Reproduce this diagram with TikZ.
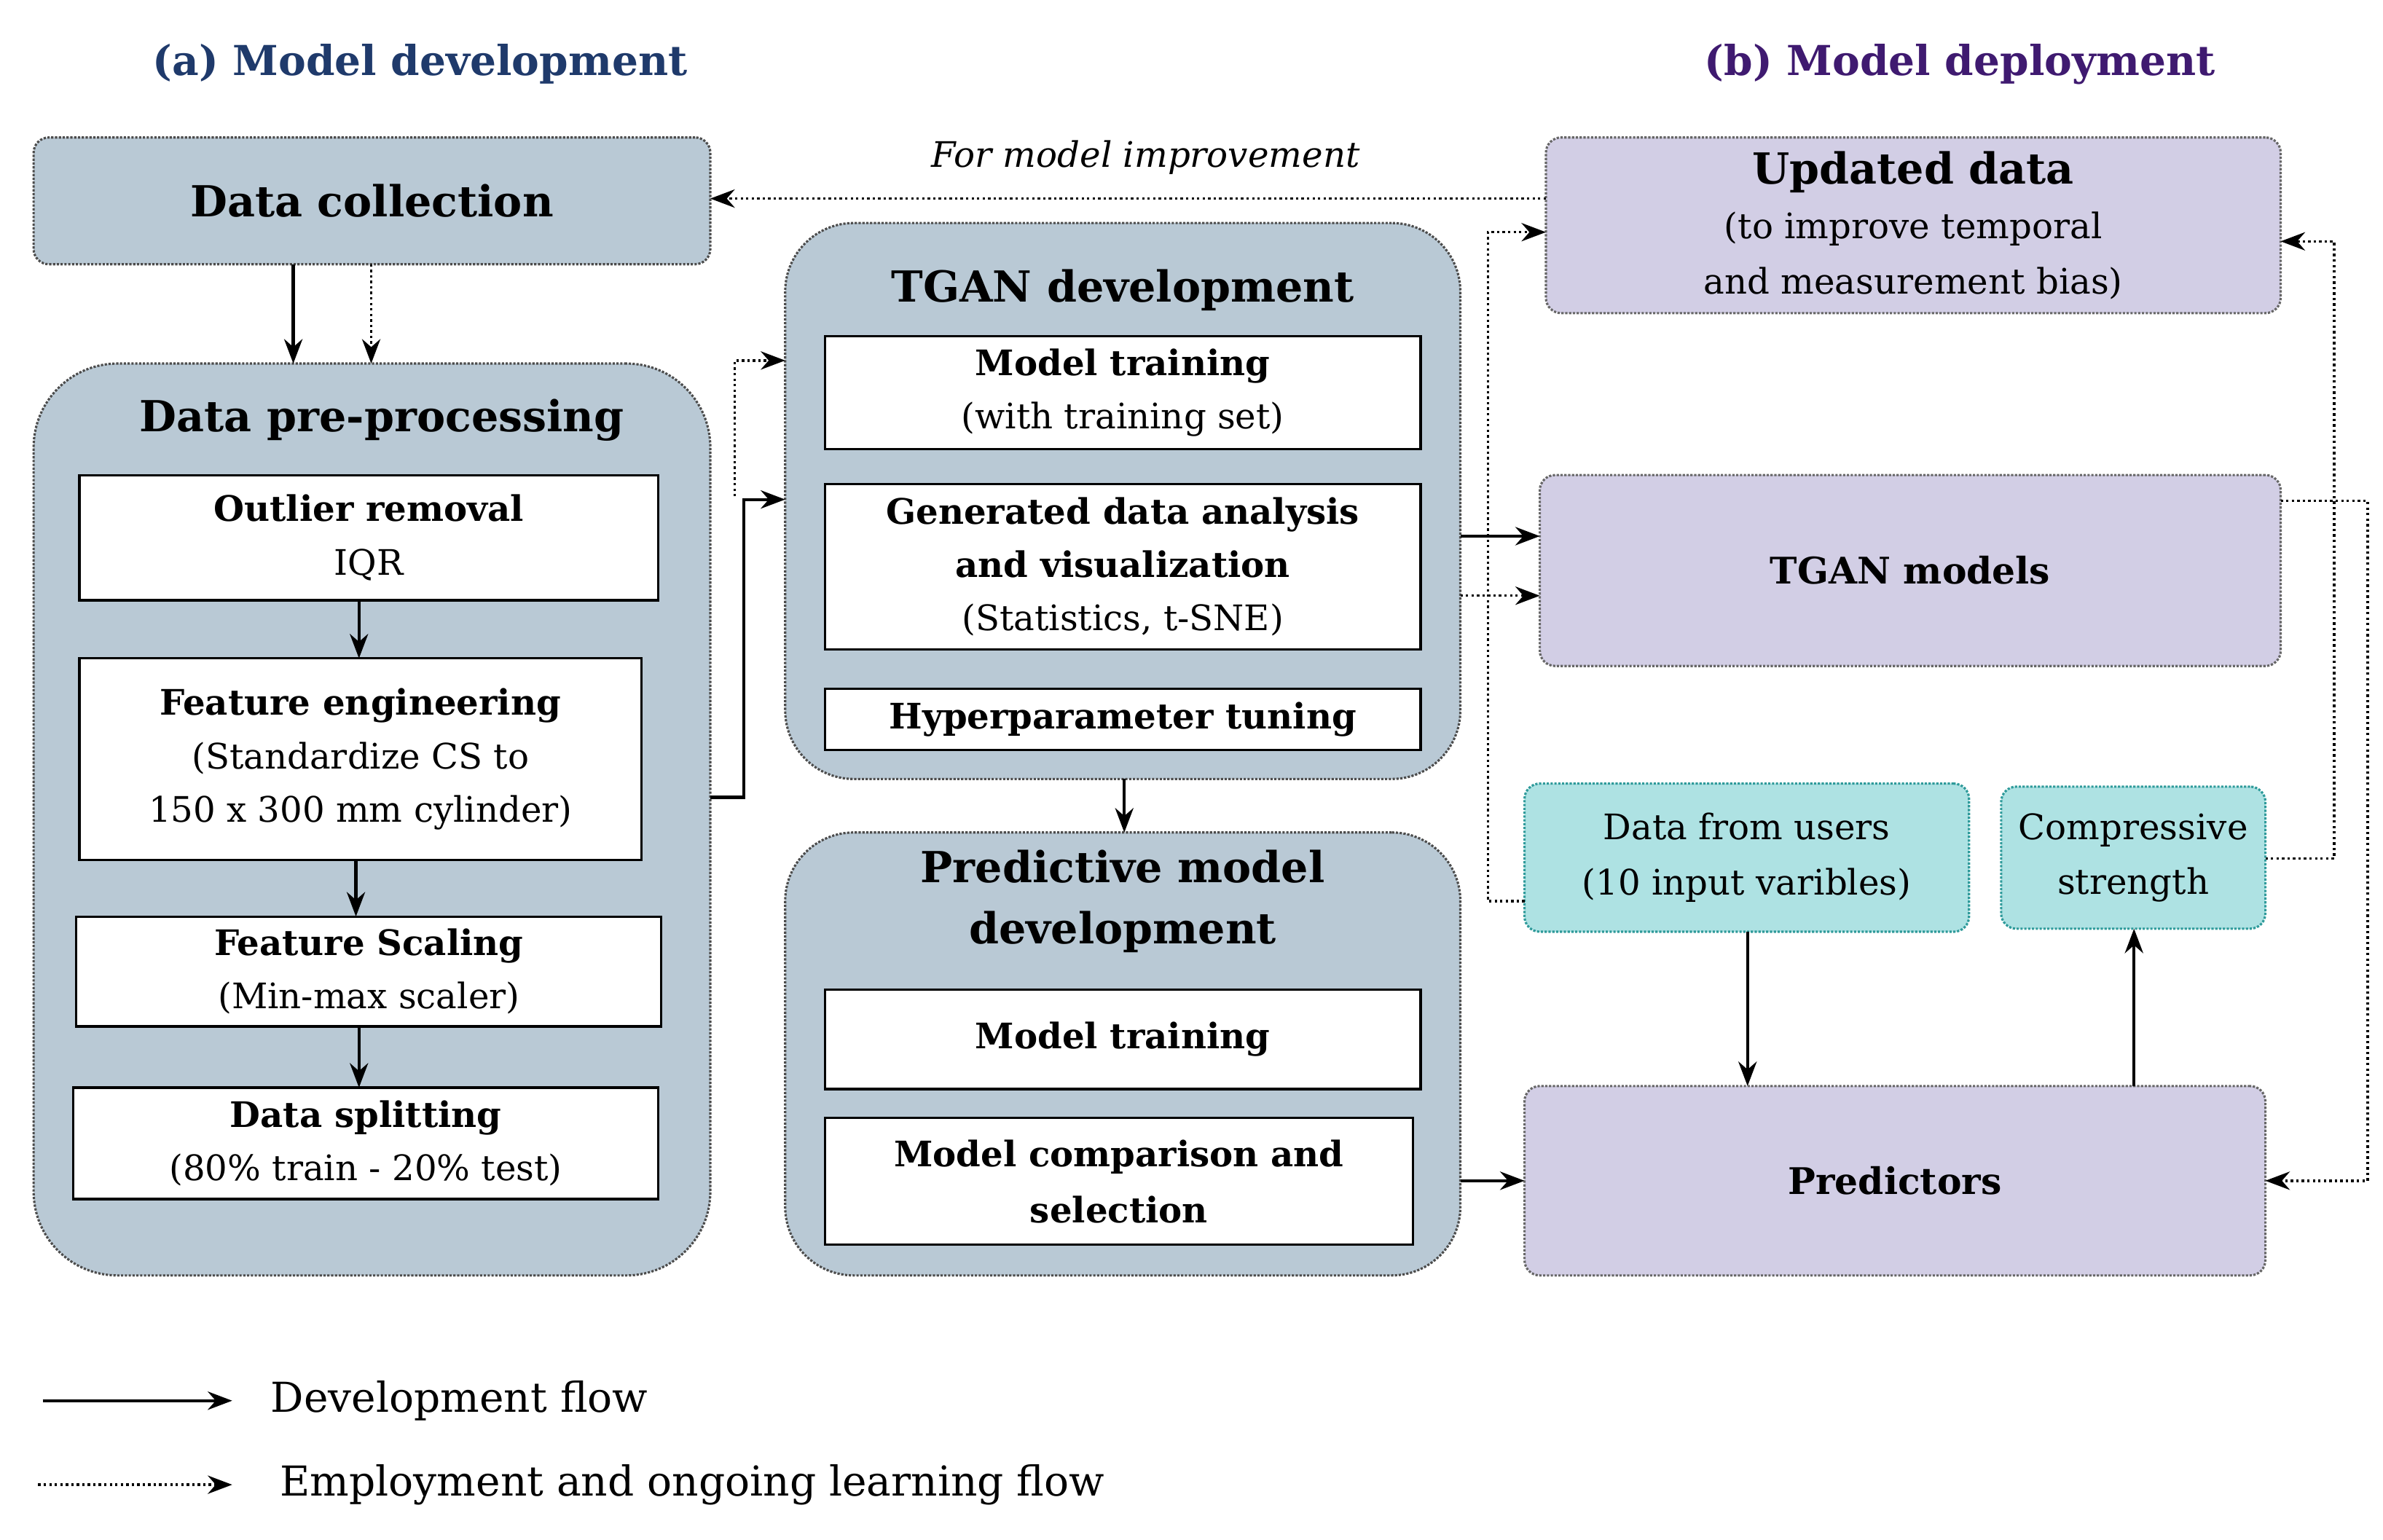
\documentclass[tikz,border=0pt]{standalone}
\usepackage{fontspec}
\setmainfont{DejaVu Serif}
\usetikzlibrary{arrows.meta,positioning}
\definecolor{gb}{HTML}{B9C9D5}
\definecolor{pu}{HTML}{D2CEE5}
\definecolor{cy}{HTML}{AEE2E3}
\definecolor{tl}{HTML}{2E9A9A}
\definecolor{ta}{HTML}{1F3A6B}
\definecolor{tb}{HTML}{3F1A70}
\begin{document}
\begin{tikzpicture}[x=1pt,y=-1pt,every node/.style={outer sep=0pt},
 box/.style={draw,line width=1.5pt,anchor=north west,inner sep=0pt,align=center,font=\fontsize{23}{35}\selectfont},
 outer/.style={draw=black!70,densely dotted,line width=1.5pt,fill=gb,anchor=north west,inner sep=0pt},
 pbox/.style={draw=black!60,densely dotted,line width=1.5pt,fill=pu,rounded corners=10pt,anchor=north west,inner sep=0pt,align=center,font=\fontsize{23}{36}\selectfont},
 cbox/.style={draw=tl,densely dotted,line width=1.5pt,fill=cy,rounded corners=10pt,anchor=north west,inner sep=0pt,align=center,font=\fontsize{23}{36}\selectfont},
 ttl/.style={font=\fontsize{28}{40}\selectfont\bfseries,align=center},
 sol/.style={line width=2pt,-{Stealth[length=16pt,width=12pt]}},
 dot/.style={line width=1.6pt,dotted,-{Stealth[length=16pt,width=12pt]}}]
\useasboundingbox (0,0) rectangle (1560,1008);
% titles
\node[font=\fontsize{27}{36}\selectfont\bfseries,text=ta] (ta) at (275,42) {(a) Model development};
\node[font=\fontsize{27}{36}\selectfont\bfseries,text=tb] (tbb) at (1283,42) {(b) Model deployment};
% left column
\node[outer,rounded corners=10pt,minimum width=443pt,minimum height=83pt,ttl] (dc) at (22,90) {Data collection};
\node[outer,rounded corners=55pt,minimum width=443pt,minimum height=597pt] (pp) at (22,238) {};
\node[ttl] (ppt) at (250,275) {Data pre-processing};
\node[box,fill=white,minimum width=379pt,minimum height=82pt] (ol) at (52,311) {\textbf{Outlier removal}\\IQR};
\node[box,fill=white,minimum width=368pt,minimum height=132pt] (fe) at (52,431) {\textbf{Feature engineering}\\(Standardize CS to\\150 x 300 mm cylinder)};
\node[box,fill=white,minimum width=383pt,minimum height=72pt] (fs) at (50,600) {\textbf{Feature Scaling}\\(Min-max scaler)};
\node[box,fill=white,minimum width=383pt,minimum height=73pt] (ds) at (48,712) {\textbf{Data splitting}\\(80\% train - 20\% test)};
% TGAN
\node[outer,rounded corners=45pt,minimum width=442pt,minimum height=364pt] (tg) at (514,146) {};
\node[ttl] (tgt) at (735,190) {TGAN development};
\node[box,fill=white,minimum width=390pt,minimum height=74pt] (mt) at (540,220) {\textbf{Model training}\\(with training set)};
\node[box,fill=white,minimum width=390pt,minimum height=108pt] (ga) at (540,317) {\textbf{Generated data analysis}\\\textbf{and visualization}\\(Statistics, t-SNE)};
\node[box,fill=white,minimum width=390pt,minimum height=40pt,font=\fontsize{23}{30}\selectfont\bfseries] (hp) at (540,451) {Hyperparameter tuning};
% predictive
\node[outer,rounded corners=45pt,minimum width=442pt,minimum height=290pt] (pd) at (514,545) {};
\node[ttl] (pdt) at (735,590) {Predictive model\\development};
\node[box,fill=white,minimum width=390pt,minimum height=65pt,font=\fontsize{23}{30}\selectfont\bfseries] (mt2) at (540,648) {Model training};
\node[box,fill=white,minimum width=385pt,minimum height=83pt,font=\fontsize{23}{37}\selectfont\bfseries] (mc) at (540,732) {Model comparison and\\selection};
% right
\node[pbox,minimum width=481pt,minimum height=115pt] (ud) at (1012,90) {{\fontsize{28}{38}\selectfont\bfseries Updated data}\\(to improve temporal\\and measurement bias)};
\node[pbox,minimum width=485pt,minimum height=125pt,font=\fontsize{24}{30}\selectfont\bfseries] (tm) at (1008,311) {TGAN models};
\node[cbox,minimum width=291pt,minimum height=97pt] (du) at (998,513) {Data from users\\(10 input varibles)};
\node[cbox,minimum width=173pt,minimum height=93pt] (cs) at (1310,515) {Compressive\\strength};
\node[pbox,minimum width=485pt,minimum height=124pt,font=\fontsize{24}{30}\selectfont\bfseries] (pr) at (998,711) {Predictors};
% arrows
\draw[sol] (dc.south -| 192,0) -- (pp.north -| 192,0);
\draw[dot] (dc.south -| 243,0) -- (pp.north -| 243,0);
\draw[sol] (ol.south -| 235,0) -- (fe.north -| 235,0);
\draw[sol] (fe.south -| 233,0) -- (fs.north -| 233,0);
\draw[sol] (fs.south -| 235,0) -- (ds.north -| 235,0);
\draw[sol] (pp.east |- 0,522) -- (487,522) -- (487,327) -- (tg.west |- 0,327);
\draw[dot] (481,325) -- (481,236) -- (tg.west |- 0,236);
\draw[sol] (tg.south -| 736,0) -- (pd.north -| 736,0);
\draw[sol] (tg.east |- 0,351) -- (tm.west |- 0,351);
\draw[dot] (tg.east |- 0,390) -- (tm.west |- 0,390);
\draw[sol] (pd.east |- 0,773) -- (pr.west |- 0,773);
\draw[dot] (ud.west |- 0,130) -- (dc.east |- 0,130);
\node[font=\fontsize{23}{30}\selectfont\itshape] (fmi) at (750,103) {For model improvement};
\draw[dot] (du.west |- 0,590) -- (974,590) -- (974,152) -- (ud.west |- 0,152);
\draw[sol] (du.south -| 1144,0) -- (pr.north -| 1144,0);
\draw[sol] (pr.north -| 1397,0) -- (cs.south -| 1397,0);
\draw[dot] (cs.east |- 0,562) -- (1528,562) -- (1528,158) -- (ud.east |- 0,158);
\draw[dot] (tm.east |- 0,328) -- (1550,328) -- (1550,773) -- (pr.east |- 0,773);
% legend
\coordinate (l1) at (28,917); \coordinate (l2) at (25,972);
\draw[sol] (l1) -- ++(124,0) node[right=22pt,anchor=west,font=\fontsize{27}{36}\selectfont] (lt1) {Development flow};
\draw[dot] (l2) -- ++(127,0) node[right=28pt,anchor=west,font=\fontsize{27}{36}\selectfont] (lt2) {Employment and ongoing learning flow};
\end{tikzpicture}
\end{document}
